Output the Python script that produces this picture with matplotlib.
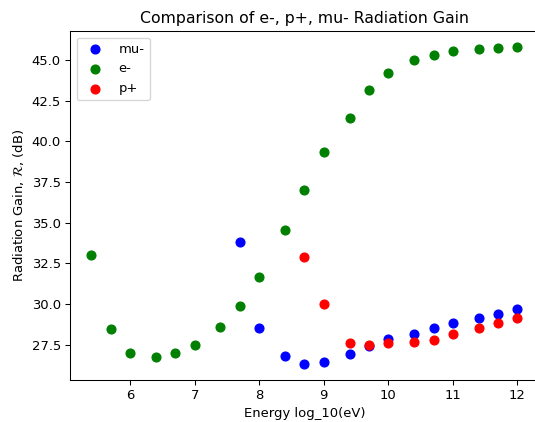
import numpy as np
import matplotlib
matplotlib.use("Agg")
import matplotlib.pyplot as plt

# energies log10(eV)
energy_e = [5.4, 5.7, 6.0, 6.4, 6.7, 7.0, 7.4, 7.7, 8.0, 8.4, 8.7, 9.0, 9.4, 9.7,
            10.0, 10.4, 10.7, 11.0, 11.4, 11.7, 12.0]
gain_e = [33.0, 28.43, 27.01, 26.72, 27.0, 27.5, 28.6, 29.85, 31.67, 34.57, 37.02,
          39.35, 41.45, 43.12, 44.22, 45.0, 45.32, 45.56, 45.7, 45.75, 45.8]

energy_mu = [7.7, 8.0, 8.4, 8.7, 9.0, 9.4, 9.7, 10.0, 10.4, 10.7, 11.0, 11.4, 11.7, 12.0]
gain_mu = [33.82, 28.5, 26.82, 26.3, 26.45, 26.93, 27.4, 27.82, 28.13, 28.5, 28.85,
           29.15, 29.38, 29.67]

energy_p = [8.7, 9.0, 9.4, 9.7, 10.0, 10.4, 10.7, 11.0, 11.4, 11.7, 12.0]
gain_p = [32.9, 30.0, 27.62, 27.47, 27.58, 27.68, 27.8, 28.13, 28.5, 28.83, 29.12]

dpi = 94.5
fig = plt.figure(figsize=(535 / dpi, 422 / dpi), dpi=dpi)
ax = fig.add_axes([0.131, 0.0995, 0.876, 0.827])

ax.scatter(energy_mu, gain_mu, color='blue', s=45, label='mu-')
ax.scatter(energy_e, gain_e, color='green', s=45, label='e-')
ax.scatter(energy_p, gain_p, color='red', s=45, label='p+')

ax.set_title("Comparison of e-, p+, mu- Radiation Gain")
ax.set_xlabel("Energy log_10(eV)")
ax.set_ylabel(r"Radiation Gain, $\mathcal{R}$, (dB)")
ax.legend(loc='upper left')

fig.savefig("out.png", dpi=dpi)
